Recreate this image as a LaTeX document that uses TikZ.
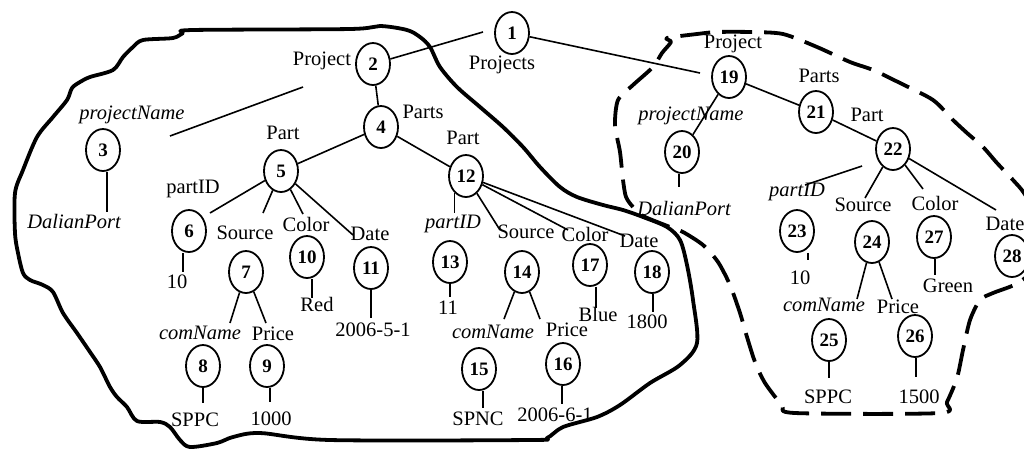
\documentclass[tikz,border=0pt]{standalone}
\usepackage{fontspec}
\setmainfont{Liberation Serif}
\usetikzlibrary{shapes.geometric}
\begin{document}
\begin{tikzpicture}[x=1pt,y=-1pt,
  nd/.style={ellipse, draw, line width=1.8pt, minimum width=34pt, minimum height=42pt, inner sep=0pt, font=\fontsize{19}{22}\selectfont\bfseries},
  lb/.style={inner sep=0.5pt, font=\fontsize{20.5}{24}\selectfont},
  il/.style={inner sep=0.5pt, font=\fontsize{20.5}{24}\selectfont\itshape},
  ed/.style={line width=1.6pt},
  blob/.style={line width=3.8pt, line join=round, line cap=round},
  dblob/.style={line width=3.8pt, line join=round, dash pattern=on 30pt off 12pt}]
\useasboundingbox (0,0) rectangle (1024,448);
\clip (0,0) rectangle (1024,448);

% solid region
\draw[blob] plot[smooth cycle, tension=0.5] coordinates {
 (190,447) (180,440) (170,427) (160,422) (137,421) (127,407) (117,397) (110,387)
 (100,367) (90,352) (77,333) (63,313) (53,292) (43,285) (30,280) (23,273) (18,253)
 (15,233) (15,193) (23,170) (37,137) (53,117) (67,100) (72,88) (80,82) (90,77)
 (113,70) (123,57) (133,47) (143,40) (173,38) (183,33) (193,30) (350,29) (380,26)
 (407,30) (420,37) (430,47) (440,67) (457,87) (480,107) (503,127) (523,147) (540,167)
 (560,187) (577,197) (603,205) (623,210) (643,217) (667,227) (680,240) (687,265)
 (693,300) (697,343) (680,365) (650,383) (620,405) (597,417) (563,427) (547,438)
 (530,440) (330,440) (260,433) (233,437) (217,443)};

% dashed region
\draw[dblob] plot[smooth cycle, tension=0.45] coordinates {
 (643,216) (633,207) (626,197) (623,180) (620,152) (615,125) (618,100) (633,85)
 (653,67) (662,53) (671,42) (667,38) (697,34) (717,32) (750,32) (783,34) (817,47)
 (850,62) (873,70) (900,83) (933,100) (953,120) (967,133) (983,147) (997,163)
 (1013,180) (1024,193) (1035,215) (1035,265) (1018,283) (993,293) (980,300)
 (970,320) (963,350) (957,378) (947,402) (940,413) (795,413) (782,405) (765,383)
 (755,362) (747,337) (740,313) (730,285) (718,262) (703,245) (683,232) (670,227)};

% nodes
\node[nd] (n1) at (512,33) {1};
\node[nd] (n2) at (373,64) {2};
\node[nd] (n3) at (103,150) {3};
\node[nd] (n4) at (381,127) {4};
\node[nd] (n5) at (281,171) {5};
\node[nd] (n6) at (189,231) {6};
\node[nd] (n7) at (246,272) {7};
\node[nd] (n8) at (203,366) {8};
\node[nd] (n9) at (267,366) {9};
\node[nd] (n10) at (307,257) {10};
\node[nd] (n11) at (371,268) {11};
\node[nd] (n12) at (466,176) {12};
\node[nd] (n13) at (450,262) {13};
\node[nd] (n14) at (522,272) {14};
\node[nd] (n15) at (479,369) {15};
\node[nd] (n16) at (563,364) {16};
\node[nd] (n17) at (590,265) {17};
\node[nd] (n18) at (652,272) {18};
\node[nd] (n19) at (729,77) {19};
\node[nd] (n20) at (682,152) {20};
\node[nd] (n21) at (816,112) {21};
\node[nd] (n22) at (893,149) {22};
\node[nd] (n23) at (797,231) {23};
\node[nd] (n24) at (872,242) {24};
\node[nd] (n25) at (829,340) {25};
\node[nd] (n26) at (915,336) {26};
\node[nd] (n27) at (934,237) {27};
\node[nd] (n28) at (1012,256) {28};

% labels
\node[lb] (l1) at (502,65) {Projects};
\node[lb] (l2) at (322,61) {Project};
\node[lb] (l4) at (423,112) {Parts};
\node[il] (l3a) at (132,115) {projectName};
\node[il] (l3b) at (74,221) {DalianPort};
\node[lb] (l5) at (283,133) {Part};
\node[lb] (l12) at (463,138) {Part};
\node[lb] (l6) at (193,189) {partID};
\node[lb] (l7) at (245,233) {Source};
\node[lb] (l10) at (306,224) {Color};
\node[lb] (l11) at (370,234) {Date};
\node[lb] (v6) at (177,282) {10};
\node[il] (l8) at (200,333) {comName};
\node[lb] (l9) at (273,334) {Price};
\node[lb] (v10) at (317,304) {Red};
\node[lb] (v11) at (373,330) {2006-5-1};
\node[lb] (v8) at (195,420) {SPPC};
\node[lb] (v9) at (271,419) {1000};
\node[il] (l13) at (453,224) {partID};
\node[lb] (l14) at (526,232) {Source};
\node[lb] (l17) at (585,234) {Color};
\node[lb] (l18) at (639,241) {Date};
\node[lb] (v13) at (448,308) {11};
\node[il] (l15) at (493,332) {comName};
\node[lb] (l16) at (567,330) {Price};
\node[lb] (v17) at (598,314) {Blue};
\node[lb] (v18) at (647,322) {1800};
\node[lb] (v15) at (478,419) {SPNC};
\node[lb] (v16) at (555,415) {2006-6-1};
\node[lb] (l19) at (733,44) {Project};
\node[lb] (l21) at (819,76) {Parts};
\node[il] (l20a) at (691,116) {projectName};
\node[il] (l20b) at (684,208) {DalianPort};
\node[lb] (l22) at (867,115) {Part};
\node[il] (l23) at (797,192) {partID};
\node[lb] (l24) at (863,205) {Source};
\node[lb] (l27) at (935,203) {Color};
\node[lb] (l28) at (1005,224) {Date};
\node[lb] (v23) at (800,278) {10};
\node[il] (l25) at (824,305) {comName};
\node[lb] (l26) at (898,307) {Price};
\node[lb] (v27) at (948,286) {Green};
\node[lb] (v25) at (828,397) {SPPC};
\node[lb] (v26) at (919,397) {1500};

% free connector ends
\coordinate (c12) at (483,32);
\coordinate (c23a) at (170,136);
\coordinate (c23b) at (303,87);
\coordinate (c56) at (210,213);
\coordinate (c57) at (263,213);
\coordinate (c510) at (303,214);
\coordinate (c511) at (353,235);
\coordinate (c78) at (230,323);
\coordinate (c79) at (266,323);
\coordinate (c1213) at (455,213);
\coordinate (c1214) at (500,230);
\coordinate (c1217) at (568,230);
\coordinate (c1218) at (625,236);
\coordinate (c1415) at (504,319);
\coordinate (c1416) at (540,319);
\coordinate (c119) at (700,73);
\coordinate (c22a) at (862,166);
\coordinate (c22b) at (805,185);
\coordinate (c2224) at (865,198);
\coordinate (c2227) at (923,189);
\coordinate (c2228) at (996,210);
\coordinate (c2425) at (857,299);
\coordinate (c2426) at (892,299);
\coordinate (e3) at (107,212);
\coordinate (e6) at (183,272);
\coordinate (e10) at (312,298);
\coordinate (e11) at (371,318);
\coordinate (e8) at (203,403);
\coordinate (e9) at (270,402);
\coordinate (e13) at (450,297);
\coordinate (e17) at (596,308);
\coordinate (e18) at (653,312);
\coordinate (e15) at (483,408);
\coordinate (e16) at (562,404);
\coordinate (e20) at (679,187);
\coordinate (e23) at (808,260);
\coordinate (e27) at (935,275);
\coordinate (e25) at (829,378);
\coordinate (e26) at (916,377);

% edges
\draw[ed] (n2) -- (c12);
\draw[ed] (c23a) -- (c23b);
\draw[ed] (n2) -- (n4);
\draw[ed] (n4) -- (n5);
\draw[ed] (n4) -- (n12);
\draw[ed] (n5) -- (c56);
\draw[ed] (n5) -- (c57);
\draw[ed] (n5) -- (c510);
\draw[ed] (n5) -- (c511);
\draw[ed] (n7) -- (c78);
\draw[ed] (n7) -- (c79);
\draw[ed] (n12.235) -- (n12.235 |- c1213);
\draw[ed] (n12) -- (c1214);
\draw[ed] (n12) -- (c1217);
\draw[ed] (n12) -- (c1218);
\draw[ed] (n14) -- (c1415);
\draw[ed] (n14) -- (c1416);
\draw[ed] (n1) -- (c119);
\draw[ed] (n19) -- (n21);
\draw[ed] (n19) -- (n20);
\draw[ed] (n21) -- (n22);
\draw[ed] (c22a) -- (c22b);
\draw[ed] (n22) -- (c2224);
\draw[ed] (n22) -- (c2227);
\draw[ed] (n22) -- (c2228);
\draw[ed] (n24) -- (c2425);
\draw[ed] (n24) -- (c2426);

% leaf lines
\draw[ed] (e3 |- n3.south) -- (e3);
\draw[ed] (e6 |- n6.south) -- (e6);
\draw[ed] (e10 |- n10.south) -- (e10);
\draw[ed] (e11 |- n11.south) -- (e11);
\draw[ed] (e8 |- n8.south) -- (e8);
\draw[ed] (e9 |- n9.south) -- (e9);
\draw[ed] (e13 |- n13.south) -- (e13);
\draw[ed] (e17 |- n17.south) -- (e17);
\draw[ed] (e18 |- n18.south) -- (e18);
\draw[ed] (e15 |- n15.south) -- (e15);
\draw[ed] (e16 |- n16.south) -- (e16);
\draw[ed] (e20 |- n20.south) -- (e20);
\draw[ed] (e23 |- n23.south) -- (e23);
\draw[ed] (e27 |- n27.south) -- (e27);
\draw[ed] (e25 |- n25.south) -- (e25);
\draw[ed] (e26 |- n26.south) -- (e26);
\end{tikzpicture}
\end{document}
